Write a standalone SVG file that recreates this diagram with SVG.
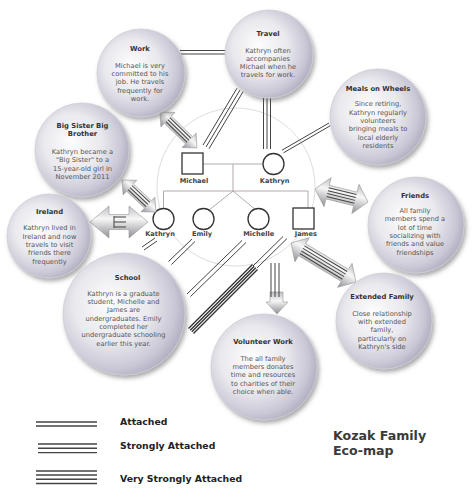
<svg xmlns="http://www.w3.org/2000/svg" width="474" height="503" viewBox="0 0 474 503">
<defs>
<radialGradient id="bub" cx="0.42" cy="0.45" r="0.62" fx="0.38" fy="0.4">
<stop offset="0" stop-color="#fdfdfd"/>
<stop offset="0.5" stop-color="#e9e9ee"/>
<stop offset="0.82" stop-color="#c9c7d5"/>
<stop offset="1" stop-color="#aaa7bb"/>
</radialGradient>
<linearGradient id="arr" x1="0" y1="0" x2="0" y2="1">
<stop offset="0" stop-color="#bdbdc3"/>
<stop offset="0.4" stop-color="#f7f7f7"/>
<stop offset="1" stop-color="#8f8f96"/>
</linearGradient>
<filter id="sh" x="-20%" y="-20%" width="150%" height="150%">
<feDropShadow dx="2" dy="3" stdDeviation="2" flood-color="#555" flood-opacity="0.5"/>
</filter>
</defs>
<style>
.bub{fill:url(#bub);stroke:#cfcfd6;stroke-width:0.8;filter:url(#sh)}
.t{font-family:"DejaVu Sans",Verdana,sans-serif;font-weight:bold;font-size:6.8px;fill:#333;text-anchor:middle}
.b{font-family:"DejaVu Sans",Verdana,sans-serif;font-size:6.7px;fill:#555;text-anchor:middle}
.ln{stroke:#444;stroke-width:1;fill:none}
.thick{stroke:#333;stroke-width:1.4;fill:none}
.ar{fill:url(#arr);stroke:#999;stroke-width:0.6}
.tree{stroke:#b3abab;stroke-width:1;fill:none}
.mem{fill:#fff;stroke:#333;stroke-width:1.3}
.lbl{font-family:"DejaVu Sans",Verdana,sans-serif;font-weight:bold;font-size:6.6px;fill:#444;text-anchor:middle}
.leg{font-family:"DejaVu Sans",Verdana,sans-serif;font-weight:bold;font-size:9.3px;fill:#222}
.legl{stroke:#444;stroke-width:1.4}
.ttl{font-family:"DejaVu Sans",Verdana,sans-serif;font-weight:bold;font-size:12.6px;fill:#3a3a3a}
</style>
<rect width="474" height="503" fill="#fff"/>

<g id="family">
<circle cx="236" cy="187" r="79" fill="none" stroke="#ddd" stroke-width="1"/>
<path class="tree" d="M203,164H263M233,164V191M163.5,191H308M163.5,191V208.5M308,191V208M233,191L210,209.3M233,191L255,209.3"/>
<g id="m-michael"><rect class="mem" x="182" y="153" width="21" height="21"/><text class="lbl" x="194" y="183.3">Michael</text></g>
<g id="m-kathryn-mother"><circle class="mem" cx="273.5" cy="164" r="10.5"/><text class="lbl" x="274.7" y="183.3">Kathryn</text></g>
<g id="m-kathryn"><circle class="mem" cx="163.5" cy="219" r="10.5"/><text class="lbl" x="160" y="235.6">Kathryn</text></g>
<g id="m-emily"><circle class="mem" cx="203.5" cy="219" r="10.5"/><text class="lbl" x="202" y="235.6">Emily</text></g>
<g id="m-michelle"><circle class="mem" cx="258.5" cy="219" r="10.5"/><text class="lbl" x="258.7" y="235.6">Michelle</text></g>
<g id="m-james"><rect class="mem" x="293" y="208" width="21" height="21"/><text class="lbl" x="305.8" y="235.6">James</text></g>
</g>

<g id="connectors">
<path class="ln" stroke-width="1.2" d="M180,50.5H226M180,54H226"/>
<path class="ln" d="M237,88.2L203,145.2M240,90L206,147M243,91.8L209,148.8"/>
<path class="ln" d="M263.5,98V149M267,98V149M270.5,98V149"/>
<path class="ln" d="M329,123L282,150.2M330.5,125.6L283.5,152.8"/>
<path class="ln" d="M155,238L142,247M157,241L144,250"/>
<path class="ln" d="M192,239L168.5,261.5M195,241.5L171.5,264.5"/>
<path class="ln" d="M242,240.5L187,294M246,242.5L190.5,296.5"/>
<path class="ln" d="M283,236.5L253,266M287,238.5L257,268"/>
<path class="thick" d="M252.5,264.5L188.5,328.5M254.2,266.2L190.2,330.2M255.8,267.8L191.8,331.8M257.5,269.5L193.5,333.5"/>
<g transform="translate(160,112) rotate(44.2)">
<polygon class="ar" points="0,0 11,-10 11,-5 40.6,-5 40.6,-10 51.6,0 40.6,10 40.6,5 11,5 11,10"/>
<path class="ln" d="M11,-2.8H40.6M11,0H40.6M11,2.8H40.6"/>
</g>
<g transform="translate(122,180) rotate(43.3)">
<polygon class="ar" points="0,0 11,-10 11,-5 35.7,-5 35.7,-10 46.7,0 35.7,10 35.7,5 11,5 11,10"/>
<path class="ln" d="M11,-2.8H35.7M11,0H35.7M11,2.8H35.7"/>
</g>
<g transform="translate(90,222)">
<polygon class="ar" points="0,0 19,-16 19,-7.5 39,-7.5 39,-16 58,0 39,16 39,7.5 19,7.5 19,16"/>
<path class="ln" d="M24,-5H36M24,0H36M24,5H36M24,-6V6"/>
</g>
<g transform="translate(315,189) rotate(13.8)">
<polygon class="ar" points="0,0 13,-15 13,-7 41.6,-7 41.6,-15 54.6,0 41.6,15 41.6,7 13,7 13,15"/>
<path class="ln" d="M13,-4.5H41.6M13,-1.5H41.6M13,1.5H41.6M13,4.5H41.6"/>
</g>
<g transform="translate(291,243) rotate(31)">
<polygon class="ar" points="0,0 13,-14 13,-7 62.8,-7 62.8,-14 75.8,0 62.8,14 62.8,7 13,7 13,14"/>
<path class="ln" d="M13,-4.5H62.8M13,-1.5H62.8M13,1.5H62.8M13,4.5H62.8"/>
</g>
<polygon class="ar" points="270,292 283,292 283,302 288,302 277,314 266,302 270,302"/>
<path class="ln" d="M271,263V297M275,263V297M279,263V297"/>
</g>

<g id="n-work">
<circle class="bub" cx="141" cy="73" r="44"/>
<text class="t" x="140" y="50.5">Work</text>
<text class="b"><tspan x="140" y="67.6">Michael is very</tspan><tspan x="140" y="75.9">committed to his</tspan><tspan x="140" y="84.2">job. He travels</tspan><tspan x="140" y="92.5">frequently for</tspan><tspan x="140" y="100.8">work.</tspan></text>
</g>
<g id="n-travel">
<circle class="bub" cx="269" cy="54" r="44"/>
<text class="t" x="268" y="35.5">Travel</text>
<text class="b"><tspan x="268" y="52.5">Kathryn often</tspan><tspan x="268" y="60.8">accompanies</tspan><tspan x="268" y="69.1">Michael when he</tspan><tspan x="268" y="77.4">travels for work.</tspan></text>
</g>
<g id="n-meals">
<circle class="bub" cx="378" cy="117" r="48"/>
<text class="t" x="378" y="90.5">Meals on Wheels</text>
<text class="b"><tspan x="378" y="106.4">Since retiring,</tspan><tspan x="378" y="114.7">Kathryn regularly</tspan><tspan x="378" y="123">volunteers</tspan><tspan x="378" y="131.3">bringing meals to</tspan><tspan x="378" y="139.6">local elderly</tspan><tspan x="378" y="148">residents</tspan></text>
</g>
<g id="n-bigsister">
<circle class="bub" cx="82" cy="150" r="47"/>
<text class="t"><tspan x="82.5" y="128">Big Sister Big</tspan><tspan x="82.5" y="136.3">Brother</tspan></text>
<text class="b"><tspan x="82.5" y="154">Kathryn became a</tspan><tspan x="82.5" y="162.3">"Big Sister" to a</tspan><tspan x="82.5" y="170.6">15-year-old girl in</tspan><tspan x="82.5" y="179">November 2011</tspan></text>
</g>
<g id="n-ireland">
<circle class="bub" cx="49" cy="236" r="42"/>
<text class="t" x="49.5" y="213.5">Ireland</text>
<text class="b"><tspan x="49.5" y="230.4">Kathryn lived in</tspan><tspan x="49.5" y="238.7">Ireland and now</tspan><tspan x="49.5" y="247">travels to visit</tspan><tspan x="49.5" y="255.3">friends there</tspan><tspan x="49.5" y="263.6">frequently</tspan></text>
</g>
<g id="n-school">
<circle class="bub" cx="124" cy="314" r="61"/>
<text class="t" x="127.5" y="279.5">School</text>
<text class="b" font-size="6.9"><tspan x="123.5" y="295.7">Kathryn is a graduate</tspan><tspan x="123.5" y="304">student, Michelle and</tspan><tspan x="123.5" y="312.3">James are</tspan><tspan x="123.5" y="320.6">undergraduates. Emily</tspan><tspan x="123.5" y="328.9">completed her</tspan><tspan x="123.5" y="337.2">undergraduate schooling</tspan><tspan x="123.5" y="345.5">earlier this year.</tspan></text>
</g>
<g id="n-friends">
<circle class="bub" cx="416" cy="225" r="48"/>
<text class="t" x="415" y="197.5">Friends</text>
<text class="b"><tspan x="415" y="213">All family</tspan><tspan x="415" y="221.3">members spend a</tspan><tspan x="415" y="229.6">lot of time</tspan><tspan x="415" y="237.9">socializing with</tspan><tspan x="415" y="246.2">friends and value</tspan><tspan x="415" y="254.5">friendships</tspan></text>
</g>
<g id="n-extended">
<circle class="bub" cx="384" cy="321" r="48"/>
<text class="t" x="382" y="299">Extended Family</text>
<text class="b"><tspan x="382" y="315.7">Close relationship</tspan><tspan x="382" y="324">with extended</tspan><tspan x="382" y="332.3">family,</tspan><tspan x="382" y="340.6">particularly on</tspan><tspan x="382" y="348.9">Kathryn's side</tspan></text>
</g>
<g id="n-volunteer">
<circle class="bub" cx="264" cy="367" r="53"/>
<text class="t" x="263" y="344">Volunteer Work</text>
<text class="b"><tspan x="263" y="360.7">The all family</tspan><tspan x="263" y="369">members donates</tspan><tspan x="263" y="377.3">time and resources</tspan><tspan x="263" y="385.6">to charities of their</tspan><tspan x="263" y="393.9">choice when able.</tspan></text>
</g>

<g id="legend">
<path class="legl" d="M36,422H97M36,426H97"/>
<text class="leg" x="120" y="425">Attached</text>
<path class="legl" d="M38,444H97M38,448.3H97M38,452.6H97"/>
<text class="leg" x="120" y="449">Strongly Attached</text>
<path class="legl" d="M36,471H97M36,475H97M36,479.3H97M36,483.5H97"/>
<text class="leg" x="120" y="481.7">Very Strongly Attached</text>
</g>
<g id="title">
<text class="ttl"><tspan x="333" y="440">Kozak Family</tspan><tspan x="333" y="455">Eco-map</tspan></text>
</g>
</svg>
